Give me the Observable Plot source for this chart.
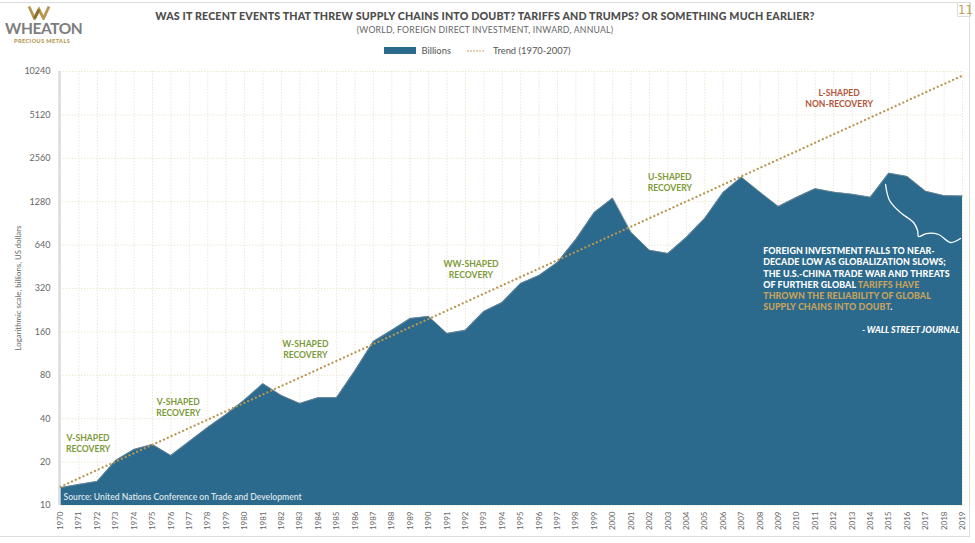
<!DOCTYPE html>
<html><head><meta charset="utf-8">
<script src="https://cdn.jsdelivr.net/npm/d3@7"></script>
<script src="https://cdn.jsdelivr.net/npm/@observablehq/plot@0.6"></script>
<style>
body{margin:0;background:#fff;font-family:Lato,"Noto Sans",sans-serif;}
#wrap{position:relative;width:975px;height:543px;overflow:hidden;background:#fff;}
#chart{position:absolute;left:0;top:0;}
.abs{position:absolute;white-space:nowrap;}
</style></head><body>
<div id="wrap">
  <div class="abs" style="left:-3px;top:2px;width:973px;height:535px;border:1.5px solid #dcdcdc;box-sizing:border-box;"></div>
  <div id="chart"></div>
  <svg class="abs" style="left:27px;top:5px" width="24" height="15" viewBox="0 0 24 15">
    <polyline points="2,1.5 7.5,13.5 12,4.5 16.5,13.5 22,1.5" fill="none" stroke="#b8964f" stroke-width="2.8" stroke-linejoin="miter"/>
    <polyline points="7.5,13.5 12,4.5" fill="none" stroke="#8a6d2f" stroke-width="2.8"/>
  </svg>
  <div class="abs" style="left:5px;top:19px;font-size:15.5px;font-weight:700;color:#7d7d7d;letter-spacing:-0.4px;">WHEATON</div>
  <div class="abs" style="left:14px;top:37px;font-size:5.6px;font-weight:900;color:#b8964f;letter-spacing:0.4px;">PRECIOUS METALS</div>
  <div class="abs" style="left:957px;top:2px;width:14px;height:15px;border:1px solid #dcdcdc;box-sizing:border-box;color:#c2a062;font-size:13px;line-height:14px;text-align:center;font-family:'Liberation Sans Narrow','DejaVu Sans Condensed',sans-serif;">11</div>
  <div id="title" class="abs" style="left:0;width:970px;top:9px;text-align:center;font-size:10.7px;font-weight:900;color:#4d4d4d;letter-spacing:0.15px;"></div>
  <div id="subtitle" class="abs" style="left:0;width:970px;top:24px;text-align:center;font-size:8.7px;color:#666;letter-spacing:0.2px;"></div>
  <div id="legend" class="abs" style="left:0;width:955px;top:45px;display:flex;justify-content:center;align-items:center;font-size:9.4px;color:#555;"></div>
  <div id="ylabel" class="abs" style="left:18px;top:288px;transform:translate(-50%,-50%) rotate(-90deg);font-size:7.8px;color:#666;"></div>
  <div id="note" class="abs" style="font-size:8.9px;font-weight:900;color:#fff;line-height:11.2px;letter-spacing:0.1px;"></div>
</div>
<script>
// ---- data ----
const years = d3.range(1970, 2020);
const billions = [
  13.3, 14.0, 14.7, 20.5, 24.5, 26.5, 22.2, 27.8, 34.8, 42.8,
  54, 70, 58, 51, 56, 56, 86, 137, 164, 198,
  205, 156, 164, 222, 256, 347, 394, 485, 700, 1077,
  1354, 784, 589, 560, 722, 980, 1483, 1890, 1490, 1185,
  1373, 1575, 1490, 1440, 1373, 2020, 1913, 1510, 1410, 1400
];
const trendYears = [1970, 2019];
const trendValues = [13.5, 9600];
const yTicks = [10, 20, 40, 80, 160, 320, 640, 1280, 2560, 5120, 10240];

const titleText = "WAS IT RECENT EVENTS THAT THREW SUPPLY CHAINS INTO DOUBT? TARIFFS AND TRUMPS? OR SOMETHING MUCH EARLIER?";
const subtitleText = "(WORLD, FOREIGN DIRECT INVESTMENT, INWARD, ANNUAL)";
const seriesName = "Billions";
const trendName = "Trend (1970-2007)";
const yAxisTitle = "Logarithmic scale, billions, US dollars";
const sourceText = "Source: United Nations Conference on Trade and Development";

const annotTexts = ["V-SHAPED\nRECOVERY", "V-SHAPED\nRECOVERY", "W-SHAPED\nRECOVERY", "WW-SHAPED\nRECOVERY", "U-SHAPED\nRECOVERY", "L-SHAPED\nNON-RECOVERY"];
const annotYears = [1971.5, 1976.4, 1983.3, 1992.3, 2003.1, 2012.3];
const annotValues = [27.1, 48.2, 122, 440, 1767, 6700];
const annotKinds = ["rec", "rec", "rec", "rec", "rec", "non"];

const quoteLines = [
  [["FOREIGN INVESTMENT FALLS TO NEAR-", "w"]],
  [["DECADE LOW AS GLOBALIZATION SLOWS;", "w"]],
  [["THE U.S.-CHINA TRADE WAR AND THREATS", "w"]],
  [["OF FURTHER GLOBAL ", "w"], ["TARIFFS HAVE", "g"]],
  [["THROWN THE RELIABILITY OF GLOBAL", "g"]],
  [["SUPPLY CHAINS INTO DOUBT", "g"], [".", "w"]]
];
const quoteSource = "- WALL STREET JOURNAL";
const quoteAnchor = {year: 2008.2, value: 580};
const wsjAnchor = {year: 2018.85, value: 164};

const squiggleYears = [2014.82, 2015.04, 2015.63, 2016.34, 2016.56, 2016.61, 2017.04, 2017.7, 2018.35, 2018.89];
const squiggleValues = [1685, 1305, 1077, 918, 808, 734, 770, 758, 667, 711];

// ---- build tables ----
const rows = years.map((y, i) => ({year: y, value: billions[i]}));
const trend = trendYears.map((y, i) => ({year: y, value: trendValues[i]}));
const annots = annotTexts.map((t, i) => ({text: t, year: annotYears[i], value: annotValues[i], kind: annotKinds[i]}));
const squiggle = squiggleYears.map((y, i) => ({year: y, value: squiggleValues[i]}));

const AREA = "#2b6a8d", GOLD = "#b8964f", GREEN = "#7d9a3a", RED = "#b3553a";

const chart = Plot.plot({
  width: 975, height: 543,
  marginLeft: 60, marginRight: 13, marginTop: 71, marginBottom: 38,
  style: {fontFamily: "Lato, 'Noto Sans', sans-serif", fontSize: "9px", color: "#666", background: "transparent", overflow: "visible"},
  x: {domain: [1970, 2019], label: null},
  y: {type: "log", base: 2, domain: [10, 10240], label: null},
  marks: [
    Plot.gridY(yTicks, {stroke: "#ece7d4", strokeOpacity: 1, strokeDasharray: "1.5,1.5"}),
    Plot.gridX(years, {stroke: "#ece7d4", strokeOpacity: 1, strokeDasharray: "1.5,1.5"}),
    Plot.areaY(rows, {x: "year", y1: 10, y2: "value", fill: AREA}),
    Plot.lineY(rows, {x: "year", y: "value", stroke: "#6f8796", strokeWidth: 0.8}),
    Plot.ruleX([1970], {stroke: "#dcdcdc", strokeWidth: 2.5, dx: -1}),
    Plot.line(trend, {x: "year", y: "value", stroke: GOLD, strokeWidth: 2.3, strokeDasharray: "0.01,4.2", strokeLinecap: "round"}),
    Plot.line(squiggle, {x: "year", y: "value", stroke: "#fff", strokeWidth: 1.3, curve: "catmull-rom"}),
    Plot.axisY(yTicks, {tickSize: 0, tickPadding: 10, tickFormat: d => String(d), fontSize: 9, fill: "#666"}),
    Plot.axisX(years, {tickSize: 0, tickPadding: 6, tickRotate: -90, tickFormat: d => String(d), fontSize: 8, fill: "#666"}),
    Plot.text(annots, {x: "year", y: "value", text: "text", fill: d => d.kind === "rec" ? GREEN : RED, fontWeight: 700, fontSize: 8.6, lineHeight: 1.28, textAnchor: "middle"}),
    Plot.text([sourceText], {frameAnchor: "bottom-left", text: d => d, dx: 3, dy: -6, fill: "#dde3e8", fontWeight: 600, fontSize: 8.6}),
    Plot.text([wsjAnchor], {x: "year", y: "value", text: () => quoteSource, textAnchor: "end", fill: "#fff", fontWeight: 900, fontStyle: "italic", fontSize: 8.8})
  ]
});
document.getElementById("chart").appendChild(chart);

document.getElementById("title").textContent = titleText;
document.getElementById("subtitle").textContent = subtitleText;
document.getElementById("ylabel").textContent = yAxisTitle;

const legend = document.getElementById("legend");
legend.innerHTML = `<span style="display:inline-block;width:32px;height:7px;background:${AREA};margin-right:5px"></span><span>${seriesName}</span>` +
  `<svg width="22" height="6" style="margin-left:15px;margin-right:5px"><line x1="2" x2="20" y1="3" y2="3" stroke="${GOLD}" stroke-width="1.6" stroke-dasharray="0.01,3" stroke-linecap="round"/></svg><span>${trendName}</span>`;

const xs = chart.scale("x"), ys = chart.scale("y");
const note = document.getElementById("note");
note.style.left = xs.apply(quoteAnchor.year) + "px";
note.style.top = (ys.apply(quoteAnchor.value) - 11.2 / 2) + "px";
note.innerHTML = quoteLines.map(line => line.map(([t, c]) => `<span style="color:${c === "g" ? "#c7a25c" : "#fff"}">${t}</span>`).join("")).join("<br>");
</script>
</body></html>
